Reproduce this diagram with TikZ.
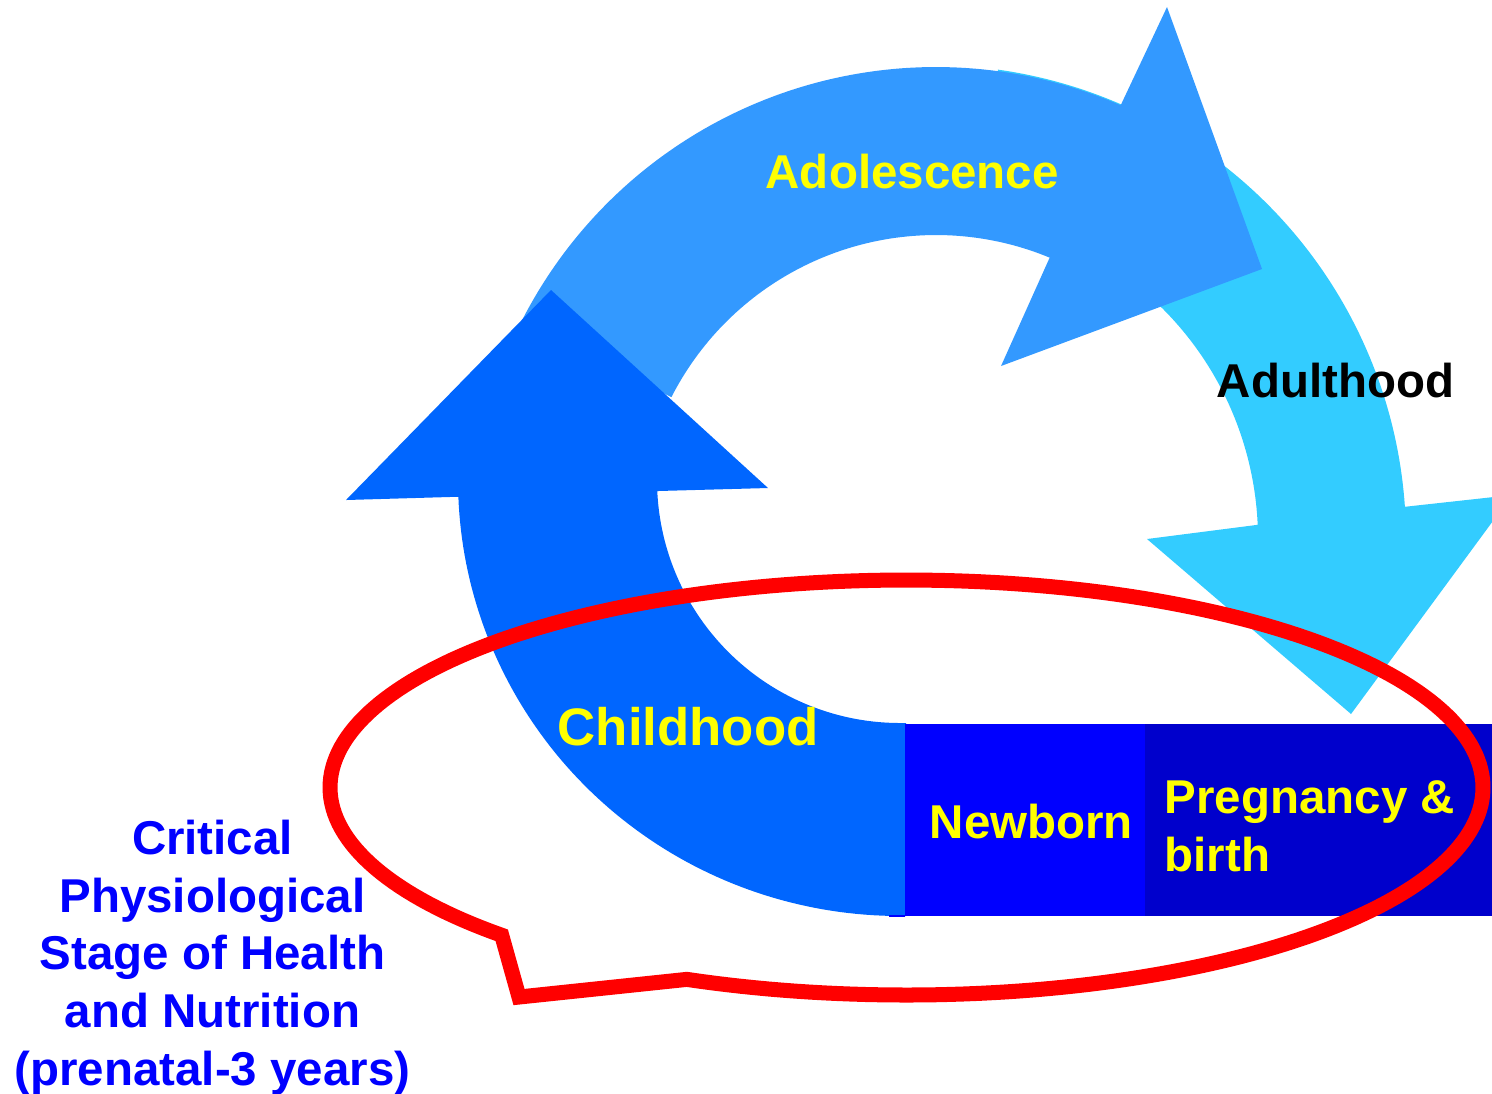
\documentclass[tikz,border=0pt]{standalone}
\usepackage{fontspec}
\setmainfont{Liberation Sans}
\definecolor{adolc}{HTML}{3399FF}
\definecolor{adultc}{HTML}{33CCFF}
\definecolor{childc}{HTML}{0066FF}
\definecolor{newbc}{HTML}{0000FF}
\definecolor{pregc}{HTML}{0000CC}
\definecolor{yelc}{HTML}{FFFF00}
\definecolor{redc}{HTML}{FF0000}
\definecolor{bluetext}{HTML}{0000FF}
\tikzset{
  stagelbl/.style={font=\fontsize{13.5}{16.4}\selectfont\bfseries, inner sep=0pt, text=yelc},
  callout/.style={draw=redc, line width=0.15cm, line join=miter},
}
\begin{document}
\begin{tikzpicture}[x=0.01cm,y=-0.01cm]
\useasboundingbox (0,0) rectangle (1492,1093);
\clip (0,0) rectangle (1492,1093);
% Adulthood arrow
\fill[adultc] plot[domain=278:356.1,samples=80] ({932+474*cos(\x)},{539+474*sin(\x)})
  -- (1512,495) -- (1351,714) -- (1147,539)
  -- plot[domain=357.5:278,samples=80] ({932+326*cos(\x)},{539+326*sin(\x)}) -- cycle;
% Adolescence arrow
\fill[adolc] plot[domain=207:293.4,samples=80] ({936+465*cos(\x)},{532+465*sin(\x)})
  -- (1167,7) -- (1262,269) -- (1001,366)
  -- plot[domain=292.5:207,samples=80] ({936+297*cos(\x)},{532+297*sin(\x)}) -- cycle;
% Childhood arrow
\fill[childc] (906,916) -- plot[domain=90:177.8,samples=80] ({900+442*cos(\x)},{480+436*sin(\x)})
  -- (346,500) -- (551,290) -- (768,488)
  -- plot[domain=177.4:90,samples=80] ({900+243*cos(\x)},{480+243*sin(\x)}) -- (906,723) -- cycle;
% Boxes
\fill[newbc] (905,724) rectangle (1145,916);
\fill[newbc] (889,914.5) rectangle (905,917);
\fill[pregc] (1145,724) rectangle (1492,916);
% Red callout
\draw[callout] plot[domain=112.4:-225.4,samples=240] ({906.5+576.5*cos(\x)},{787.5+207.5*sin(\x)})
  -- (519,997) -- cycle;
% Labels
\node[stagelbl, anchor=base west] (adol) at (765,188) {Adolescence};
\node[stagelbl, text=black, anchor=base west] (adult) at (1216,397) {Adulthood};
\node[stagelbl, font=\fontsize{15}{18}\selectfont\bfseries, anchor=base west] (child) at (557,745) {Childhood};
\node[stagelbl, anchor=base west] (newb) at (929,838) {Newborn};
\node[stagelbl, anchor=base west, align=left] (preg) at (1164,871) {Pregnancy \&\\birth};
\node[stagelbl, text=bluetext, anchor=base, align=center] (crit) at (212.5,1085) {Critical\\Physiological\\Stage of Health\\and Nutrition\\(prenatal-3 years)};
\end{tikzpicture}
\end{document}
